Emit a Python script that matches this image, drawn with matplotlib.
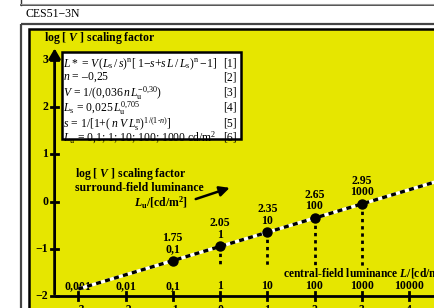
import matplotlib
matplotlib.use("Agg")
import matplotlib.pyplot as plt
from matplotlib.patches import Rectangle

plt.rcParams['mathtext.fontset'] = 'custom'
plt.rcParams['mathtext.rm'] = 'Liberation Serif'
plt.rcParams['mathtext.it'] = 'Liberation Serif:italic'
plt.rcParams['mathtext.bf'] = 'Liberation Serif:bold:italic'
plt.rcParams['mathtext.sf'] = 'Liberation Serif:bold'
plt.rcParams['font.family'] = ['Liberation Serif', 'DejaVu Serif']

# ---- data ----
log_L = [-1, 0, 1, 2, 3]                      # log surround luminance
log_V = [-1.25, -0.95, -0.65, -0.35, -0.05]   # log V (plotted)
top_labels = ["1.75", "2.05", "2.35", "2.65", "2.95"]
L_u_labels = ["0,1", "1", "10", "100", "1000"]
dotted_from = [0, 1, 2, 3]                    # points with dotted drop lines
dotted_end = -1.38
line_logL = [-3, 4.7]
line_logV = [-1.85, 0.46]
xticks = [-3, -2, -1, 0, 1, 2, 3, 4]
xtick_top = ["0,001", "0,01", "0,1", "1", "10", "100", "1000", "10000"]
yticks = [3, 2, 1, 0, -1, -2]
ytick_labels = ["3", "2", "1", "0", "\u22121", "\u22122"]

FS = 8.5   # bold label size
FF = 8.4   # formula size

W, H = 434, 308
fig = plt.figure(figsize=(W / 100, H / 100), dpi=100)

# background axes in pixel coordinates
bg = fig.add_axes([0, 0, 1, 1])
bg.set_xlim(0, W)
bg.set_ylim(H, 0)
bg.axis('off')
# top box remnant
bg.plot([21, 21], [0, 5], color='#333333', lw=1.0)
bg.plot([21, W + 5], [5, 5], color='#333333', lw=1.2)
bg.plot([21, W + 5], [4, 4], color='#999999', lw=0.8)
bg.text(25, 14, "CES51\u22123N", fontsize=8.5, va='center', ha='left')
# chart outer frame
bg.add_patch(Rectangle((20.5, 24), W, H, fill=False, ec='#444444', lw=1.6))
bg.add_patch(Rectangle((28.5, 29), W, H, fc='#e6e600', ec='black', lw=1.8))
# formula box
bg.add_patch(Rectangle((62, 52), 179, 87, fc='white', ec='black', lw=1.8, zorder=3))
flines = [
    r"$L*\,{=}V\,(L_\mathrm{s}\,/\,s)^\mathrm{n}[\;1{-}s{+}s\,L\,/\,L_\mathrm{s})^\mathrm{n}\;{-}1]$",
    "$n\\,=\\,\u20130{,}25$",
    r"$V\,=\,1/(0{,}036\,n\,L_\mathrm{u}^{-0{,}30})$",
    r"$L_\mathrm{s}\,=\,0{,}025\,L_\mathrm{u}^{0{,}705}$",
    r"$s\,=\,1/[1{+}(\;n\;V\,L_\mathrm{s}^\mathrm{n})^{1/(1\text{-}n)}]$",
    r"$L_\mathrm{u}\,=\,0{,}1;\,1;\,10;\,100;\,1000\ \mathrm{cd/m}^2$",
]
fnums = ["[1]", "[2]", "[3]", "[4]", "[5]", "[6]"]
fy = [62, 75.5, 91, 106, 121.5, 136]
for t, nlab, yy in zip(flines, fnums, fy):
    bg.text(63, yy, t, fontsize=FF, va='center_baseline', ha='left', zorder=4)
    bg.text(237, yy, nlab, fontsize=FF, va='center_baseline', ha='right', zorder=4)

# data axes
x0, y0, s = 220.0, 201.6, 47.25
ax = fig.add_axes([0, 0, 1, 1])
ax.patch.set_alpha(0)
ax.set_xlim((0 - x0) / s, (W - x0) / s)
ax.set_ylim((y0 - H) / s, y0 / s)
ax.axis('off')
ax.set_zorder(2)

# axes lines
ax.plot([-3.5, 5], [-2, -2], color='black', lw=2.0, solid_capstyle='butt')
ax.annotate('', xy=(-3.5, 3.3), xytext=(-3.5, -2.02),
            arrowprops=dict(arrowstyle='-|>,head_width=0.35,head_length=0.6',
                            color='black', lw=2.0))
for yv, yl in zip(yticks, ytick_labels):
    ax.plot([-3.57, -3.43], [yv, yv], color='black', lw=2.0)
    ax.text(-3.64, yv, yl, fontsize=FS, fontweight='bold', ha='right', va='center')
for xv, xl in zip(xticks, xtick_top):
    ax.plot([xv, xv], [-2.08, -1.92], color='black', lw=2.0)
    ax.text(xv, -1.79, xl, fontsize=FS, fontweight='bold', ha='center', va='center')
    ax.text(xv, -2.17, str(xv).replace('-', '\u2212'), fontsize=FS,
            fontweight='bold', ha='center', va='top')

ax.text(-3.73, 3.46, r"log [ $\mathbf{V}$ ] scaling factor", fontsize=FS,
        fontweight='bold', ha='left', va='center')

# dashed line
ax.plot(line_logL, line_logV, color='white', lw=2.4, solid_capstyle='butt', zorder=3)
ax.plot(line_logL, line_logV, color='black', lw=2.4, dashes=(1.5, 1.3), zorder=4)

# dotted drop lines
for xv, yv in zip(log_L, log_V):
    if xv in dotted_from:
        ax.plot([xv, xv], [yv, dotted_end], color='black', lw=2.0,
                dashes=(1.2, 1.4), zorder=3)

# points
ax.plot(log_L, log_V, 'o', color='black', ms=6.5, zorder=5)
for xv, yv, tl, ll in zip(log_L, log_V, top_labels, L_u_labels):
    ax.text(xv, yv + 0.25, ll, fontsize=FS, fontweight='bold', ha='center', va='center')
    ax.text(xv, yv + 0.49, tl, fontsize=FS, fontweight='bold', ha='center', va='center')

# annotations
ax.text(-3.07, 0.585, r"log [ $\mathbf{V}$ ] scaling factor", fontsize=FS,
        fontweight='bold', ha='left', va='center')
ax.text(-3.07, 0.29, "surround-field luminance", fontsize=FS,
        fontweight='bold', ha='left', va='center')
ax.text(-0.68, -0.02, r"$\mathbf{L}_\mathsf{u}$/[cd/m$^\mathsf{2}$]", fontsize=FS,
        fontweight='bold', ha='right', va='center')
ax.annotate('', xy=(0.26, 0.31), xytext=(-0.57, 0.035),
            arrowprops=dict(arrowstyle='-|>,head_width=0.3,head_length=0.6',
                            color='black', lw=1.8))
ax.text(1.33, -1.52, r"central-field luminance $\mathbf{L}$/[cd/m$^\mathsf{2}$]",
        fontsize=8.3, fontweight='bold', ha='left', va='center')

fig.savefig("out.png", dpi=100)
